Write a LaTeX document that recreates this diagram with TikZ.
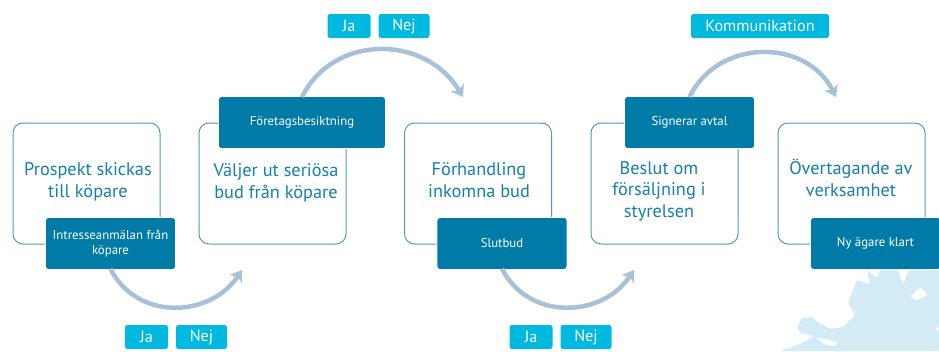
\documentclass[tikz,border=0pt]{standalone}
\usepackage{fontspec}
\setmainfont{PT Sans}
\usetikzlibrary{arrows.meta}
\definecolor{dark}{HTML}{007BA7}
\definecolor{outline}{HTML}{4F9BBF}
\definecolor{chip}{HTML}{00B9DF}
\definecolor{flow}{HTML}{A9C1D6}
\definecolor{mapc}{HTML}{D3EBF5}
\definecolor{txt}{HTML}{1580AE}
\tikzset{
 stage/.style={draw=outline,line width=1pt,fill=white,rounded corners=10pt,minimum width=147pt,minimum height=121pt,inner sep=0pt},
 stagetext/.style={text=txt,font=\fontsize{18.3}{21.5}\selectfont,align=center,inner sep=0pt},
 action/.style={draw=white,line width=0.8pt,fill=dark,rounded corners=3pt,text=white,font=\fontsize{12.8}{14.5}\selectfont,align=center,inner sep=0pt,minimum height=52pt},
 choice/.style={fill=chip,rounded corners=2.5pt,text=white,font=\fontsize{16.2}{18}\selectfont,inner sep=0pt,minimum height=24pt},
 flowline/.style={draw=flow,line width=4.5pt,-{Stealth[length=11pt,width=15pt,inset=3pt]}},
}
\begin{document}
\begin{tikzpicture}[x=1pt,y=-1pt]
\useasboundingbox (0,0) rectangle (939,351);
% map
\fill[mapc,rounded corners=1.5pt] (780,351) -- (800,344) -- (815,336) -- (800,333) -- (797,327) -- (802,318) -- (812,317) -- (817,322) -- (830,329) -- (843,327) -- (855,315) -- (848,303) -- (857,280) -- (870,284) -- (867,270) -- (877,278) -- (880,270) -- (898,270) -- (903,284) -- (909,270) -- (939,269) -- (939,351) -- cycle;
\fill[white,rounded corners=1pt] (910,297) -- (920,287) -- (928,295) -- (917,300) -- cycle;
\fill[white,rounded corners=1pt] (816,338) -- (825,339) -- (837,342) -- (836,346) -- (826,345) -- cycle;
\fill[white] (935,329) -- (939,327) -- (939,331) -- cycle;
% stages
\node[stage] (s1) at (86.5,183.5) {};
\node[stage] (s2) at (272.5,183.5) {};
\node[stage] (s3) at (478,183.5) {};
\node[stage] (s4) at (664.5,183.5) {};
\node[stage] (s5) at (851.5,183.5) {};
\node[stagetext] (t1) at (88,182) {Prospekt skickas\\till köpare};
\node[stagetext] (t2) at (276,183) {Väljer ut seriösa\\bud från köpare};
\node[stagetext] (t3) at (479,180) {Förhandling\\inkomna bud};
\node[stagetext] (t4) at (659,191) {Beslut om\\försäljning i\\styrelsen};
\node[stagetext] (t5) at (851,178) {Övertagande av\\verksamhet};
% actions
\node[action,minimum width=130pt] (a1) at (110.5,243.5) {Intresseanmälan från\\köpare};
\node[action,minimum width=167pt] (a2) at (302,122.5) {Företagsbesiktning};
\node[action,minimum width=130pt] (a3) at (502,243.5) {Slutbud};
\node[action,minimum width=130pt] (a4) at (689.5,122.5) {Signerar avtal};
\node[action,minimum width=130pt] (a5) at (875.5,243.5) {Ny ägare klart};
% free ends
\coordinate (e1) at (242,270);
\coordinate (e2) at (463,97);
\coordinate (e3) at (634,270);
\coordinate (e4) at (836,97);
% connectors
\draw[flowline] ([yshift=1pt]a1.south) .. controls (137,321) and (210,318) .. (e1);
\draw[flowline] ([yshift=-1pt]a2.north) .. controls (333,34) and (425,34) .. (e2);
\draw[flowline] ([yshift=1pt]a3.south) .. controls (529,321) and (602,318) .. (e3);
\draw[flowline] ([yshift=-1pt]a4.north) .. controls (718,38) and (806,38) .. (e4);
% choices
\node[choice,minimum width=43pt] (j1) at (146.5,337) {Ja};
\node[choice,minimum width=51pt] (n1) at (201.5,337) {Nej};
\node[choice,minimum width=43pt] (j2) at (349,26) {Ja};
\node[choice,minimum width=51pt] (n2) at (404,26) {Nej};
\node[choice,minimum width=43pt] (j3) at (531,337) {Ja};
\node[choice,minimum width=51pt] (n3) at (586,337) {Nej};
\node[choice,minimum width=138pt] (k) at (760,26) {Kommunikation};
\end{tikzpicture}
\end{document}
